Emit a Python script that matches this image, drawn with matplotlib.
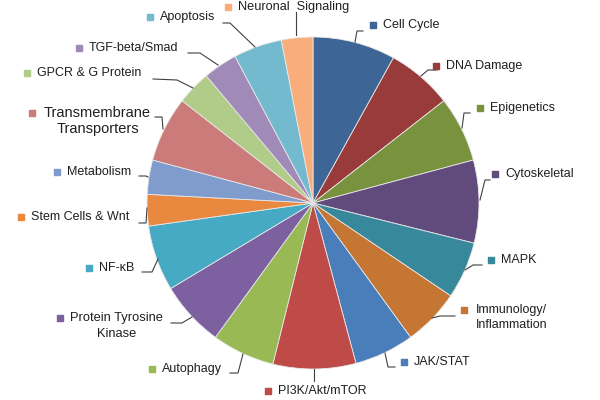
import matplotlib
matplotlib.use('Agg')
import matplotlib.pyplot as plt
import numpy as np

plt.rcParams['font.family'] = ['Liberation Sans', 'DejaVu Sans']

# slice data (clockwise from 12 o'clock)
categories = ['Cell Cycle', 'DNA Damage', 'Epigenetics', 'Cytoskeletal', 'MAPK',
              'Immunology/\nInflammation', 'JAK/STAT', 'PI3K/Akt/mTOR', 'Autophagy',
              'Protein Tyrosine\nKinase', 'NF-\u03baB', 'Stem Cells & Wnt', 'Metabolism',
              'Transmembrane\nTransporters', 'GPCR & G Protein', 'TGF-beta/Smad',
              'Apoptosis', 'Neuronal  Signaling']
values = [29, 23, 23, 29, 20, 20, 21, 29, 22, 23, 23, 11, 12, 23, 12, 12, 17, 11]
colors = ['#3D6596', '#983B3A', '#78923E', '#614B7D', '#38889B', '#C57633',
          '#4A7EBB', '#BE4B48', '#98B954', '#7D60A0', '#46AAC4', '#E8893F',
          '#7F9CCD', '#CB7B79', '#B1CB89', '#9F8AB8', '#74BACE', '#F9AD7A']

# label layout in image pixels: marker x, y, text alignment, font size
label_pos = [(373, 25, 'left', 9), (436, 66, 'left', 9), (480, 108, 'left', 9),
             (495, 174, 'left', 9), (491, 260, 'left', 9), (464, 310, 'left', 9),
             (404, 362, 'left', 9), (268, 391, 'left', 9), (152, 369, 'left', 9),
             (60, 318, 'center', 9.3), (89, 268, 'left', 9), (21, 217, 'left', 9),
             (57, 172, 'left', 9), (32, 113, 'center', 10.5), (27, 73, 'left', 9),
             (79, 48, 'left', 9), (150, 17, 'left', 9), (228, 7, 'left', 9.2)]
# leader lines (start, elbow, end) in image pixels
leaders = [[(355, 42), (357, 31), (363, 31)],
           [(421, 76), (428, 70), (437, 70)],
           [(462, 128), (464, 113), (470, 113)],
           [(480, 200), (485, 180), (490, 180)],
           [(465, 270), (473, 265), (482, 265)],
           [(432, 318), (440, 316), (455, 316)],
           [(385, 353), (388, 367), (395, 367)],
           [(314, 369), (314, 375), (314, 381)],
           [(243, 354), (238, 373), (230, 373)],
           [(192, 317), (182, 323), (171, 323)],
           [(158, 259), (152, 272), (142, 272)],
           [(147, 208), (146, 223), (139, 223)],
           [(148, 177), (146, 176), (139, 176)],
           [(163, 129), (162, 117), (155, 117)],
           [(193, 88), (177, 80), (153, 79)],
           [(218, 65), (200, 53), (188, 53)],
           [(255, 47), (230, 23), (223, 23)],
           [(296, 35), (296, 23), (296, 12)]]

fig = plt.figure(figsize=(6, 4), dpi=100)
ax = fig.add_axes([0, 0, 1, 1])
ax.set_xlim(0, 600)
ax.set_ylim(0, 400)
ax.set_aspect('equal')
ax.axis('off')

H = 400
ax.pie(values, colors=colors, center=(313, H - 203), radius=166,
       startangle=90, counterclock=False,
       wedgeprops=dict(edgecolor='#e8e8e8', linewidth=0.6))
ax.set_xlim(0, 600)
ax.set_ylim(0, 400)

for lab, col, (mx, my, al, fs), ld in zip(categories, colors, label_pos, leaders):
    xs = [p[0] for p in ld]
    ys = [H - p[1] for p in ld]
    ax.plot(xs, ys, color='#404040', linewidth=0.8)
    ax.scatter([mx], [H - my], marker='s', s=22, color=col, zorder=5)
    tc = '#1f1f1f'
    if al == 'center':
        lines = lab.split('\n')
        gap = 12 if fs > 10 else 10
        t = ax.text(mx + gap, H - my, lines[0], ha='left', va='center',
                    fontsize=fs, color=tc)
        fig.canvas.draw()
        bb = t.get_window_extent()
        ax.text((bb.x0 + bb.x1) / 2, H - my - 16, lines[1], ha='center',
                va='center', fontsize=fs, color=tc)
    elif '\n' in lab:
        lines = lab.split('\n')
        ax.text(mx + 12, H - my, lines[0], ha='left', va='center',
                fontsize=fs, color=tc)
        ax.text(mx + 12, H - my - 15, lines[1], ha='left', va='center',
                fontsize=fs, color=tc)
    else:
        ax.text(mx + 10, H - my, lab, ha='left', va='center',
                fontsize=fs, color=tc)

plt.savefig('out.png', dpi=100)
